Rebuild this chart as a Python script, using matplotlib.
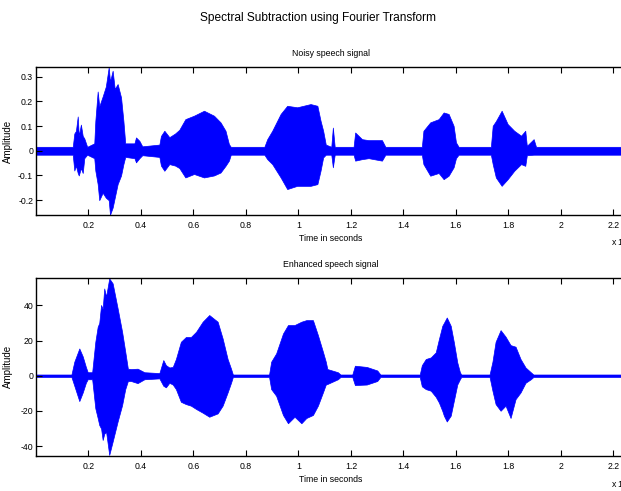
import numpy as np
import matplotlib
matplotlib.use('Agg')
from matplotlib import pyplot as plt

plt.rcParams['font.family'] = ['Liberation Sans Narrow', 'Liberation Sans', 'DejaVu Sans']

# envelope of the noisy signal (time s, upper, lower)
noisy_t = [0.000, 0.140, 0.146, 0.152, 0.159, 0.163, 0.171, 0.178, 0.184, 0.195,
           0.222, 0.226, 0.235, 0.241, 0.254, 0.266, 0.277, 0.282, 0.292, 0.300,
           0.311, 0.324, 0.333, 0.340, 0.375, 0.381, 0.394, 0.405, 0.470, 0.476,
           0.489, 0.508, 0.530, 0.546, 0.569, 0.602, 0.640, 0.678, 0.703, 0.722,
           0.735, 0.742, 0.870, 0.881, 0.900, 0.932, 0.957, 0.995, 1.046, 1.072,
           1.084, 1.094, 1.104, 1.125, 1.131, 1.138, 1.210, 1.216, 1.242, 1.267,
           1.318, 1.331, 1.470, 1.476, 1.502, 1.534, 1.553, 1.572, 1.591, 1.600,
           1.610, 1.733, 1.740, 1.752, 1.774, 1.797, 1.822, 1.848, 1.864, 1.870,
           1.896, 1.905, 2.244]
noisy_hi = [0.016, 0.016, 0.070, 0.080, 0.139, 0.060, 0.106, 0.060, 0.050, 0.016,
            0.030, 0.120, 0.240, 0.180, 0.220, 0.260, 0.338, 0.280, 0.324, 0.250,
            0.270, 0.216, 0.121, 0.030, 0.030, 0.054, 0.040, 0.018, 0.025, 0.060,
            0.081, 0.055, 0.070, 0.085, 0.128, 0.142, 0.162, 0.142, 0.115, 0.081,
            0.027, 0.016, 0.016, 0.047, 0.081, 0.149, 0.182, 0.176, 0.189, 0.182,
            0.122, 0.081, 0.025, 0.016, 0.094, 0.016, 0.016, 0.074, 0.047, 0.043,
            0.043, 0.016, 0.016, 0.081, 0.115, 0.128, 0.155, 0.149, 0.101, 0.034,
            0.016, 0.016, 0.101, 0.120, 0.162, 0.108, 0.081, 0.061, 0.081, 0.020,
            0.047, 0.016, 0.016]
noisy_lo = [-0.016, -0.016, -0.080, -0.060, -0.090, -0.100, -0.070, -0.090, -0.030, -0.016,
            -0.030, -0.080, -0.135, -0.200, -0.170, -0.190, -0.200, -0.259, -0.230, -0.190,
            -0.135, -0.100, -0.054, -0.025, -0.030, -0.047, -0.030, -0.018, -0.025, -0.060,
            -0.081, -0.054, -0.060, -0.070, -0.108, -0.094, -0.108, -0.100, -0.088, -0.061,
            -0.040, -0.016, -0.016, -0.034, -0.054, -0.108, -0.155, -0.142, -0.142, -0.135,
            -0.081, -0.027, -0.016, -0.016, -0.067, -0.016, -0.016, -0.040, -0.034, -0.030,
            -0.040, -0.016, -0.016, -0.054, -0.101, -0.090, -0.115, -0.101, -0.067, -0.030,
            -0.016, -0.016, -0.054, -0.108, -0.142, -0.115, -0.081, -0.054, -0.061, -0.018,
            -0.016, -0.016, -0.016]

# envelope of the enhanced signal
enh_t = [0.000, 0.135, 0.146, 0.165, 0.178, 0.190, 0.197, 0.214, 0.226, 0.235,
         0.241, 0.248, 0.254, 0.260, 0.267, 0.279, 0.292, 0.311, 0.328, 0.340,
         0.350, 0.362, 0.387, 0.413, 0.470, 0.485, 0.495, 0.508, 0.521, 0.533,
         0.552, 0.571, 0.590, 0.610, 0.635, 0.660, 0.692, 0.711, 0.730, 0.743,
         0.750, 0.888, 0.896, 0.915, 0.941, 0.960, 0.985, 1.011, 1.030, 1.055,
         1.074, 1.093, 1.104, 1.110, 1.150, 1.160, 1.205, 1.215, 1.260, 1.300,
         1.312, 1.462, 1.470, 1.485, 1.504, 1.523, 1.535, 1.548, 1.554, 1.565,
         1.580, 1.592, 1.605, 1.615, 1.620, 1.728, 1.739, 1.751, 1.770, 1.789,
         1.808, 1.827, 1.846, 1.865, 1.885, 1.895, 2.244]
enh_hi = [0.7, 0.7, 8.0, 15.5, 11.0, 5.0, 2.0, 2.0, 19.3, 27.8,
          30.0, 40.2, 38.0, 49.6, 45.0, 55.3, 52.5, 38.3, 25.0, 13.7,
          4.0, 3.8, 4.0, 2.0, 1.5, 8.9, 6.0, 4.7, 5.0, 9.5,
          19.3, 22.0, 22.0, 25.0, 30.7, 34.5, 30.7, 21.2, 9.5, 4.0,
          0.7, 0.7, 8.0, 12.7, 24.0, 28.8, 28.8, 30.7, 31.6, 31.6,
          23.1, 13.7, 8.0, 3.8, 2.0, 0.7, 0.7, 5.7, 5.0, 3.0,
          0.7, 0.7, 6.0, 9.5, 10.4, 13.3, 20.8, 28.4, 30.0, 33.1,
          28.4, 19.0, 7.6, 2.0, 0.7, 0.7, 8.0, 19.3, 25.9, 22.2,
          17.4, 16.5, 9.5, 4.7, 2.0, 0.7, 0.7]
enh_lo = [-0.7, -0.7, -5.7, -14.4, -9.5, -4.0, -2.0, -2.0, -18.5, -24.0,
          -28.0, -30.0, -36.5, -33.0, -31.8, -45.0, -37.4, -26.0, -16.7, -7.6,
          -3.0, -3.0, -4.2, -2.0, -1.5, -5.7, -6.6, -4.0, -5.0, -7.6,
          -14.8, -16.1, -17.0, -18.9, -21.0, -23.3, -21.4, -17.0, -9.5, -4.0,
          -0.7, -0.7, -7.6, -11.4, -22.3, -27.0, -23.3, -27.0, -24.0, -22.3,
          -17.0, -9.5, -5.0, -4.7, -2.0, -0.7, -0.7, -5.3, -5.0, -3.0,
          -0.7, -0.7, -6.0, -7.6, -8.5, -12.0, -15.2, -20.0, -22.7, -26.0,
          -22.7, -14.2, -5.0, -2.0, -0.7, -0.7, -8.5, -16.1, -19.9, -17.0,
          -24.0, -13.3, -9.5, -4.0, -2.0, -0.7, -0.7]

xticks = [0.2, 0.4, 0.6, 0.8, 1, 1.2, 1.4, 1.6, 1.8, 2, 2.2]
noisy_yticks = [-0.2, -0.1, 0, 0.1, 0.2, 0.3]
enh_yticks = [-40, -20, 0, 20, 40]

W, H = 621, 491
LEFT, RIGHT = 36, 625
fig = plt.figure(figsize=(W / 100, H / 100), dpi=100)


def make_axes(top, bottom):
    return fig.add_axes([LEFT / W, 1 - bottom / H, (RIGHT - LEFT) / W, (bottom - top) / H])


def style(ax, title, ylim, yticks):
    ax.set_xlim(0, 2.244)
    ax.set_ylim(*ylim)
    ax.set_xticks(xticks)
    ax.set_xticklabels(['%g' % v for v in xticks])
    ax.set_yticks(yticks)
    ax.set_yticklabels(['%g' % v for v in yticks])
    ax.tick_params(direction='in', top=True, length=4, width=0.8, labelsize=6.3)
    ax.tick_params(axis='x', pad=4)
    ax.tick_params(axis='y', pad=2)
    for s in ax.spines.values():
        s.set_linewidth(1.0)
    ax.set_title(title, fontsize=6.3, pad=8)
    ax.set_xlabel('Time in seconds', fontsize=6.3, labelpad=3)
    ax.set_ylabel('Amplitude', fontsize=7)
    ax.yaxis.set_label_coords((13 - LEFT) / (RIGHT - LEFT), 0.5)


ax1 = make_axes(67, 215)
ax1.fill_between(noisy_t, noisy_lo, noisy_hi, color='#0000ff', lw=0.5)
style(ax1, 'Noisy speech signal', (-0.26, 0.339), noisy_yticks)

ax2 = make_axes(277.7, 456)
ax2.fill_between(enh_t, enh_lo, enh_hi, color='#0000ff', lw=0.5)
style(ax2, 'Enhanced speech signal', (-45.6, 55.7), enh_yticks)

fig.text(318 / W, 1 - 18 / H, 'Spectral Subtraction using Fourier Transform',
         ha='center', va='center', fontsize=8.6)
# the exponent label sits at the right edge and is cut off, as in the source
fig.text(611 / W, 1 - 242 / H, 'x 10$^4$', ha='left', va='center', fontsize=6.3)
fig.text(611 / W, 1 - 484 / H, 'x 10$^4$', ha='left', va='center', fontsize=6.3)

fig.savefig('out.png', dpi=100)
